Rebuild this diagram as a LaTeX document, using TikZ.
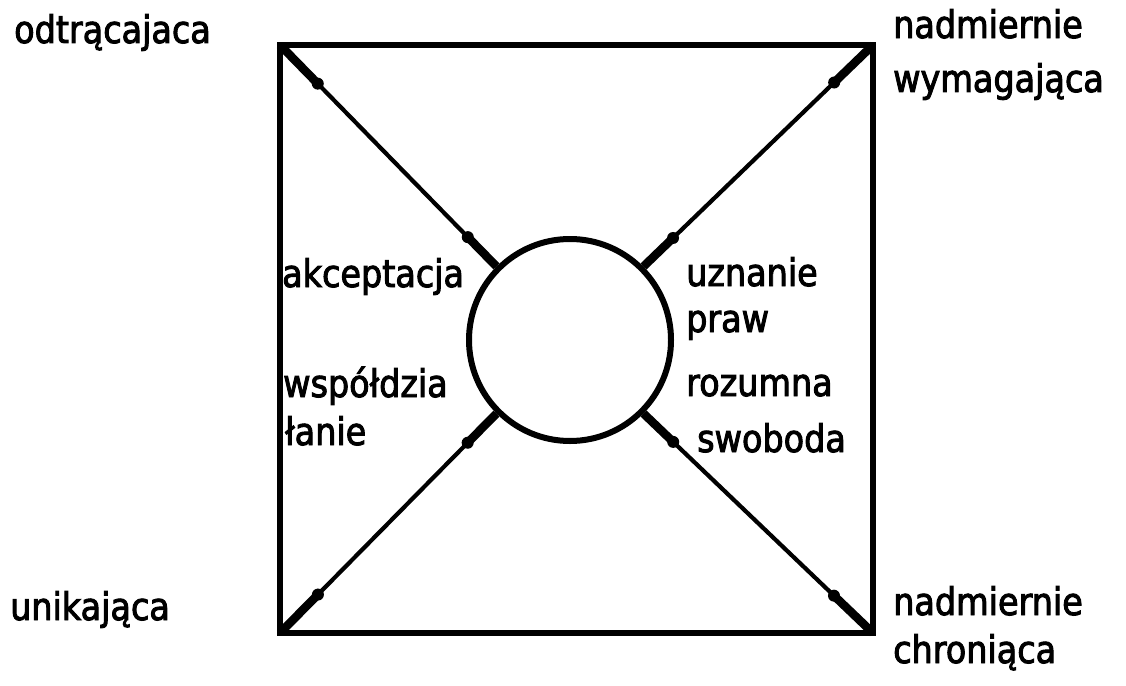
\documentclass[tikz,border=0pt]{standalone}
\usepackage{fontspec}
\setmainfont[FakeStretch=0.88,FakeBold=2.5]{DejaVu Sans}
\usetikzlibrary{calc}
\tikzset{
  frame/.style={line width=6pt, line join=miter},
  diag/.style={line width=4.2pt},
  bar/.style={line width=8.5pt, line cap=butt},
  lab/.style={anchor=base west, inner sep=0pt, font=\fontsize{38}{44}\selectfont},
}
\newcommand{\twobars}[2]{%
  \draw[bar] (#1) -- ($(#1)!58pt!(#2)$);
  \fill ($(#1)!54pt!(#2)$) circle (6pt);
  \draw[bar] (#2) -- ($(#2)!45pt!(#1)$);
  \fill ($(#2)!41pt!(#1)$) circle (6pt);
}
\begin{document}
\begin{tikzpicture}[x=1pt,y=-1pt]
\useasboundingbox (0,0) rectangle (1126,685);
\fill[white] (0,0) rectangle (1126,685);
\coordinate (tl) at (280,45);
\coordinate (tr) at (873,45);
\coordinate (br) at (873,633);
\coordinate (bl) at (280,633);
\draw[frame] (tl) -- (tr) -- (br) -- (bl) -- cycle;
\node[circle, draw, line width=6pt, minimum size=202pt, inner sep=0pt] (c) at (570,340) {};
\draw[diag] (tl) -- (c.135);
\draw[diag] (tr) -- (c.45);
\draw[diag] (bl) -- (c.225);
\draw[diag] (br) -- (c.315);
\twobars{tl}{c.135}
\twobars{tr}{c.45}
\twobars{bl}{c.225}
\twobars{br}{c.315}
\node[lab] (l1) at (14,43) {odtrącajaca};
\node[lab] (l2) at (893,38) {nadmiernie};
\node[lab] (l3) at (893,92) {wymagająca};
\node[lab] (l4) at (282,287) {akceptacja};
\node[lab] (l5) at (686,286) {uznanie};
\node[lab] (l6) at (686,332) {praw};
\node[lab] (l7) at (686,396) {rozumna};
\node[lab] (l8) at (697,452) {swoboda};
\node[lab] (l9) at (283,397) {współdzia};
\node[lab] (l10) at (285,445) {łanie};
\node[lab] (l11) at (10,620) {unikająca};
\node[lab] (l12) at (893,615) {nadmiernie};
\node[lab] (l13) at (893,663) {chroniąca};
\end{tikzpicture}
\end{document}
